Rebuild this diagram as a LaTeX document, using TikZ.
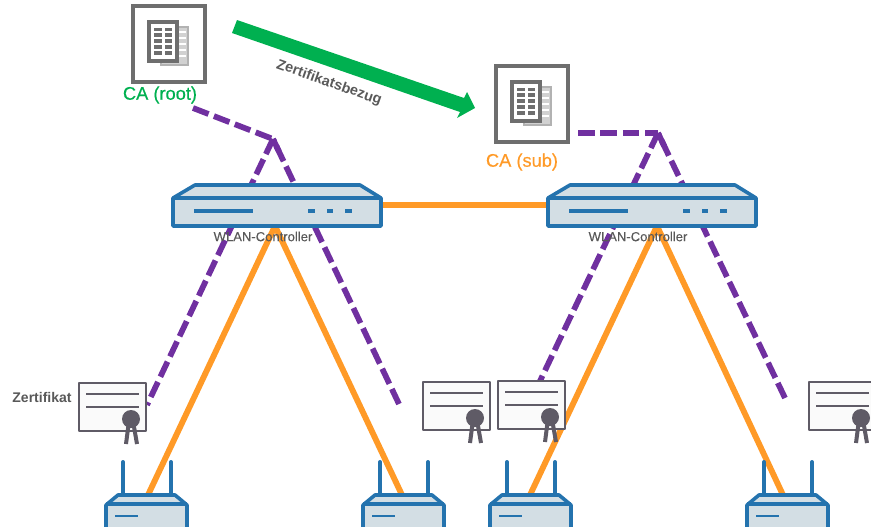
\documentclass[tikz,border=0pt]{standalone}
\usepackage{fontspec}
\usetikzlibrary{calc}
\setmainfont{Liberation Sans}
\newfontfamily\heavyfont[FakeBold=0.35]{Liberation Sans}
\newfontfamily\mediumfont[FakeBold=0.2]{Liberation Sans}
\pgfdeclarelayer{wires}
\pgfsetlayers{wires,main}
\definecolor{devblue}{HTML}{2473AE}
\definecolor{devfill}{HTML}{D3DEE4}
\definecolor{wireor}{HTML}{FF9A27}
\definecolor{dashpu}{HTML}{7030A0}
\definecolor{arrgreen}{HTML}{00B050}
\definecolor{boxgray}{HTML}{6E6E6E}
\definecolor{certgray}{HTML}{5F5B66}
\definecolor{txtgray}{HTML}{595959}
\tikzset{
  x=0.75pt,y=-0.75pt,
  devline/.style={draw=devblue,line width=2.7pt,line join=round},
  orangeline/.style={draw=wireor,line width=4.4pt},
  orangelink/.style={draw=wireor,line width=4.8pt},
  purpleline/.style={draw=dashpu,line width=4.3pt,dash pattern=on 12.5pt off 4.3pt},
  purplesolid/.style={draw=dashpu,line width=4.3pt},
  lab/.style={inner sep=0pt,font=\heavyfont\fontsize{#1}{#1}\selectfont},
  wlanlab/.style={inner sep=0pt,text=txtgray,font=\mediumfont\fontsize{9.8}{9.8}\selectfont},
  graylab/.style={inner sep=0pt,text=txtgray,font=\fontsize{#1}{#1}\selectfont\bfseries},
  ctrlbox/.pic={
    \draw[devline,fill=devfill] (0,13)--(22,0)--(187,0)--(208,13)--(208,41)--(0,41)--cycle;
    \draw[devline] (0,13)--(208,13);
    \draw[devblue,line width=2.6pt] (21,26)--(80,26);
    \draw[devblue,line width=2.6pt] (135,26)--(142,26) (154,26)--(160,26) (172,26)--(179,26);
    \coordinate (-west) at (0,20);
    \coordinate (-east) at (208,20);
  },
  serverbox/.pic={
    \draw[boxgray,line width=2.5pt,fill=white] (0,0) rectangle (72,76);
    \draw[fill=black!18,draw=black!30,line width=1.5pt] (28,21) rectangle (55,59);
    \foreach \yy in {26,32,38,44,50}{\draw[white,line width=1.4pt] (46,\yy)--(53,\yy);}
    \draw[boxgray,line width=3pt,fill=white] (16,16) rectangle (44,55);
    \foreach \yy in {23.5,29,35,41,47}{
      \draw[boxgray,line width=2.5pt] (21,\yy)--(29,\yy) (32,\yy)--(39,\yy);}
  },
  certbox/.pic={
    \draw[certgray,line width=1.6pt,fill=white!98!black,line join=round] (0,0) rectangle (67,48);
    \draw[certgray,line width=1.6pt] (7,11)--(60,11) (7,24)--(60,24);
    \draw[certgray,line width=3pt] (50,38)--(47,61) (54,38)--(58,61);
    \fill[certgray] (52,36) circle[radius=9];
  },
  apbox/.pic={
    \draw[devblue,line width=3pt,line cap=round] (17,0)--(17,33) (65,0)--(65,33);
    \draw[devline,fill=devfill] (0,43)--(12,33)--(69,33)--(81,43)--(81,70)--(0,70)--cycle;
    \draw[devline] (0,42)--(81,42);
    \draw[devblue,line width=2.1pt] (9,54)--(32,54);
  },
}
\begin{document}
\begin{tikzpicture}
\useasboundingbox (0,0) rectangle (871,526);
\clip (0,0) rectangle (871,526);
% devices
\pic (ctrlA) at (173,185) {ctrlbox};
\pic (ctrlB) at (548,185) {ctrlbox};
\pic at (133,6) {serverbox};
\pic at (496,66) {serverbox};
\pic at (79,383) {certbox};
\pic at (423,382) {certbox};
\pic at (498,381) {certbox};
\pic at (809,382) {certbox};
\pic at (106,462) {apbox};
\pic at (363,462) {apbox};
\pic at (490,462) {apbox};
\pic at (747,462) {apbox};
% labels
\node[lab=13.7,text=arrgreen] (rootlab) at (160,95) {CA (root)};
\node[lab=13.7,text=wireor] (sublab) at (522,162) {CA (sub)};
\node[graylab=10.8,rotate=-19.5] (bezug) at (329,83) {Zertifikatsbezug};
\node[graylab=10.5] (zert) at (42,397) {Zertifikat};
\node[wlanlab] (wlanA) at (263,236.5) {WLAN-Controller};
\node[wlanlab] (wlanB) at (638,236.5) {WLAN-Controller};
% green arrow
\fill[arrgreen] (237,20)--(464,98)--(467,92)--(475,108)--(457,118)--(460,112)--(232,33)--cycle;
% connector anchors
\coordinate (hubA) at (275,226);
\coordinate (hubB) at (657,226);
\coordinate (apAtop) at (148,495);
\coordinate (apBtop) at (402,495);
\coordinate (apCtop) at (530,495);
\coordinate (apDtop) at (783,495);
\coordinate (rootend) at (193,108);
\coordinate (apexA) at (273,139);
\coordinate (certA) at (147,405);
\coordinate (freeA) at (399,404);
\coordinate (subend) at (578,133);
\coordinate (apexB) at (658,133);
\coordinate (certC) at (540,381);
\coordinate (freeB) at (785,398);
\begin{pgfonlayer}{wires}
\draw[orangelink] (ctrlA-east)--(ctrlB-west);
\draw[orangeline] (hubA)--(apAtop);
\draw[orangeline] (hubA)--(apBtop);
\draw[orangeline] (hubB)--(apCtop);
\draw[orangeline] (hubB)--(apDtop);
\draw[purpleline] (rootend)--(apexA);
\draw[purpleline] (apexA)--(certA);
\draw[purpleline] (freeA)--(apexA);
\draw[purplesolid] (apexA)--($(apexA)!0.045!(freeA)$);
\draw[purpleline] (subend)--(apexB);
\draw[purpleline] (apexB)--(certC);
\draw[purpleline] (freeB)--(apexB);
\draw[purplesolid] (apexB)--($(apexB)!0.05!(freeB)$);
\end{pgfonlayer}
\end{tikzpicture}
\end{document}
